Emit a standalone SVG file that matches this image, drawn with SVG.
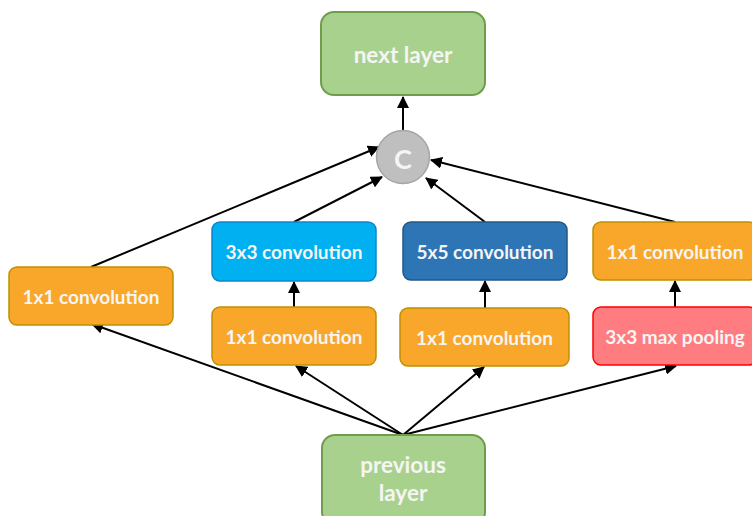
<svg xmlns="http://www.w3.org/2000/svg" width="752" height="516" viewBox="0 0 752 516">
<defs>
<marker id="ah" markerWidth="12" markerHeight="12" refX="11" refY="6" orient="auto" markerUnits="userSpaceOnUse" viewBox="0 0 12 12">
<path d="M0,0 L12,6 L0,12 z" fill="#000"/>
</marker>
<style>
.t{font-family:Lato,"Open Sans","Liberation Sans",sans-serif;font-weight:bold;fill:#F5F5F5;text-anchor:middle;dominant-baseline:central}
.s{font-size:19px}
.b{font-size:22.5px}
.green{fill:#A9D18E;stroke:#6E9E4B;stroke-width:2}
.orange{fill:#F9A72B;stroke:#BF9000;stroke-width:1.5}
.lblue{fill:#00B0F0;stroke:#0D86C8;stroke-width:1.5}
.dblue{fill:#2E75B6;stroke:#22578A;stroke-width:1.5}
.red{fill:#FF7C80;stroke:#FF0000;stroke-width:1.5}
.ln{stroke:#000;stroke-width:2;fill:none;marker-end:url(#ah)}
</style>
</defs>
<rect width="752" height="516" fill="#fff"/>
<g id="connectors">
<line class="ln" x1="403" y1="131" x2="403" y2="97"/>
<line class="ln" x1="91" y1="267" x2="379" y2="147"/>
<line class="ln" x1="294" y1="222" x2="382" y2="177"/>
<line class="ln" x1="485" y1="222" x2="426" y2="178"/>
<line class="ln" x1="675" y1="222" x2="431" y2="160"/>
<line class="ln" x1="294" y1="307" x2="294" y2="282"/>
<line class="ln" x1="485" y1="308" x2="485" y2="281"/>
<line class="ln" x1="675" y1="307" x2="675" y2="281"/>
<line class="ln" x1="403" y1="435" x2="92" y2="324"/>
<line class="ln" x1="403" y1="435" x2="296" y2="366"/>
<line class="ln" x1="403" y1="435" x2="484" y2="367"/>
<line class="ln" x1="403" y1="435" x2="676" y2="366"/>
</g>
<g id="next_layer"><rect class="green" x="321" y="12" width="164" height="83" rx="13"/><text class="t b" x="403" y="54">next layer</text></g>
<g id="concat"><circle cx="403" cy="157" r="26.5" fill="#BFBFBF" stroke="#A6A6A6" stroke-width="1.5"/><text class="t" x="403" y="158" font-size="27">C</text></g>
<g id="conv1x1_a"><rect class="orange" x="9" y="267" width="164" height="58" rx="8"/><text class="t s" x="91" y="296">1x1 convolution</text></g>
<g id="conv3x3"><rect class="lblue" x="212" y="222" width="164" height="59" rx="8"/><text class="t s" x="294" y="251.5">3x3 convolution</text></g>
<g id="conv5x5"><rect class="dblue" x="403" y="222" width="164" height="58" rx="8"/><text class="t s" x="485" y="251">5x5 convolution</text></g>
<g id="conv1x1_d"><rect class="orange" x="593" y="222" width="164" height="58" rx="8"/><text class="t s" x="675" y="251">1x1 convolution</text></g>
<g id="conv1x1_b"><rect class="orange" x="212" y="307" width="164" height="58" rx="8"/><text class="t s" x="294" y="336">1x1 convolution</text></g>
<g id="conv1x1_c"><rect class="orange" x="400" y="308" width="169" height="58" rx="8"/><text class="t s" x="484.5" y="337">1x1 convolution</text></g>
<g id="maxpool"><rect class="red" x="593" y="307" width="164" height="58" rx="8"/><text class="t s" x="675" y="336">3x3 max pooling</text></g>
<g id="previous_layer"><rect class="green" x="322" y="435" width="163" height="90" rx="13"/><text class="t b" x="403" y="464">previous</text><text class="t b" x="403" y="492">layer</text></g>
</svg>
